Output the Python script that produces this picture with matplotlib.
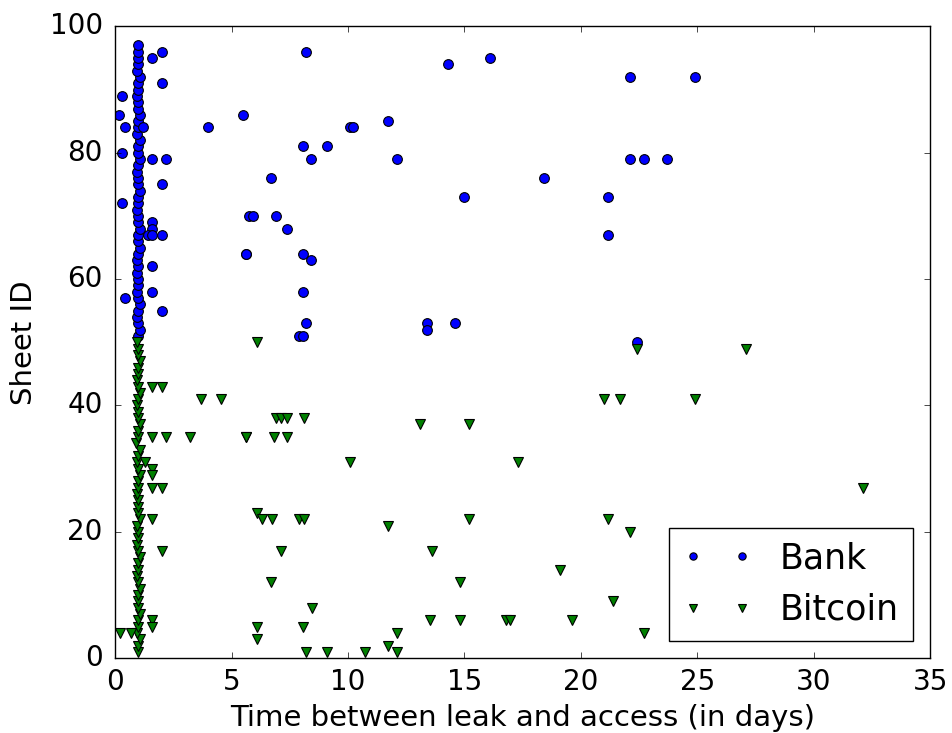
import matplotlib
matplotlib.use('Agg')
from matplotlib import pyplot as plt

plt.style.use('classic')

# bank sheets accessed roughly one day after the leak
bank_col_ids = [51, 52, 53, 54, 55, 56, 57, 58, 59, 60, 61, 62, 63, 64, 65, 66,
                67, 68, 69, 70, 71, 72, 73, 74, 75, 76, 77, 78, 79, 80, 81, 82,
                83, 84, 85, 86, 87, 88, 89, 90, 91, 92, 93, 94, 95, 96, 97]
bank_col_days = [1.0, 1.05, 1.0, 0.95, 1.0, 1.05, 1.0, 0.95, 1.0, 1.0, 0.95, 1.0, 0.95, 1.0, 1.05, 1.0,
                 1.0, 1.05, 1.0, 1.0, 0.95, 1.0, 1.0, 1.05, 1.0, 1.0, 0.95, 1.0, 1.05, 1.0, 1.0, 1.05,
                 0.95, 1.0, 1.0, 1.05, 1.0, 1.0, 0.95, 1.0, 1.0, 1.05, 0.95, 1.0, 1.0, 1.0, 1.0]

# remaining bank accesses
bank_ids = [86, 89, 84, 80, 72, 57, 96, 95, 91, 84, 79, 79, 75, 69, 68, 67, 67, 67, 62, 58, 55,
            86, 84, 70, 64, 96, 94, 95, 84, 84, 85, 81, 81, 79, 79, 76, 73, 70, 70, 68, 64, 64, 63,
            58, 53, 51, 51, 53, 52, 53, 92, 92, 79, 79, 79, 76, 73, 67, 50]
bank_days = [0.17, 0.3, 0.4, 0.3, 0.3, 0.4, 2.0, 1.6, 2.0, 1.2, 1.6, 2.2, 2.0, 1.6, 1.6, 1.4, 1.6, 2.0, 1.6, 1.6, 2.0,
             5.5, 4.0, 5.75, 5.6, 8.2, 14.3, 16.1, 10.1, 10.2, 11.7, 8.07, 9.1, 8.4, 12.1, 6.7, 15.0, 5.9, 6.9, 7.4, 5.6, 8.07, 8.4,
             8.07, 8.2, 7.9, 8.07, 13.4, 13.4, 14.6, 22.1, 24.9, 22.1, 22.7, 23.7, 18.4, 21.15, 21.15, 22.4]

# bitcoin sheets accessed roughly one day after the leak
btc_col_ids = [1, 2, 3, 4, 5, 6, 7, 8, 9, 10, 11, 12, 13, 14, 15, 16, 17,
               18, 19, 20, 21, 22, 23, 24, 25, 26, 27, 28, 29, 30, 31, 32, 33,
               34, 35, 36, 37, 38, 39, 40, 41, 42, 43, 44, 45, 46, 47, 48, 49, 50]
btc_col_days = [1.0, 1.0, 1.05, 0.95, 1.0, 1.0, 1.05, 1.0, 1.0, 1.0, 1.05, 1.0, 0.95, 1.0, 1.0, 1.05, 1.0,
                0.95, 1.0, 1.0, 0.95, 1.05, 1.0, 1.0, 1.0, 0.95, 1.0, 1.0, 1.05, 1.0, 0.95, 1.0, 1.05,
                0.9, 1.0, 1.0, 1.05, 1.0, 1.0, 0.95, 1.0, 1.05, 1.0, 0.95, 1.0, 1.0, 1.05, 1.0, 1.0, 0.95]

# remaining bitcoin accesses
btc_ids = [43, 43, 41, 41, 35, 35, 35, 35, 31, 30, 29, 27, 27, 22, 17, 6, 5, 4, 4,
           50, 38, 38, 38, 38, 37, 37, 35, 35, 35, 31, 23, 22, 22, 22, 22, 21, 22, 17, 17,
           12, 12, 8, 5, 5, 6, 6, 6, 3, 4, 2, 1, 1, 1, 1,
           49, 49, 41, 41, 41, 31, 27, 22, 20, 14, 9, 6, 6, 4]
btc_days = [1.6, 2.0, 3.7, 4.55, 1.6, 2.2, 3.2, 5.6, 1.26, 1.6, 1.6, 1.6, 2.0, 1.6, 2.0, 1.6, 1.6, 0.2, 0.7,
            6.1, 6.9, 7.1, 7.4, 8.1, 13.1, 15.2, 5.6, 6.8, 7.4, 10.1, 6.1, 6.3, 6.75, 7.9, 8.1, 11.7, 15.2, 7.1, 13.6,
            6.7, 14.8, 8.45, 6.1, 8.07, 13.5, 14.8, 16.8, 6.1, 12.1, 11.7, 8.2, 9.1, 10.75, 12.1,
            22.4, 27.1, 21.0, 21.7, 24.9, 17.3, 32.1, 21.15, 22.1, 19.1, 21.4, 16.95, 19.6, 22.7]

fig = plt.figure(figsize=(9.52, 7.33), dpi=100)
fig.patch.set_facecolor('white')
ax = fig.add_axes([0.121, 0.102, 0.856, 0.862])

ax.plot(bank_col_days + bank_days, bank_col_ids + bank_ids, 'bo', markersize=7, markeredgewidth=0.8, label='Bank')
ax.plot(btc_col_days + btc_days, btc_col_ids + btc_ids, 'gv', markersize=7, markeredgewidth=0.8, label='Bitcoin')

ax.set_xlim(0, 35)
ax.set_ylim(0, 100)
ax.tick_params(axis='x', labelsize=20, pad=7)
ax.tick_params(axis='y', labelsize=20, pad=9)
ax.set_xlabel('Time between leak and access (in days)', fontsize=21, labelpad=6)
ax.set_ylabel('Sheet ID', fontsize=21, labelpad=8)
ax.legend(loc='lower right', numpoints=2, fontsize=25, markerscale=0.75)

plt.savefig('out.png', dpi=100, facecolor='white')
